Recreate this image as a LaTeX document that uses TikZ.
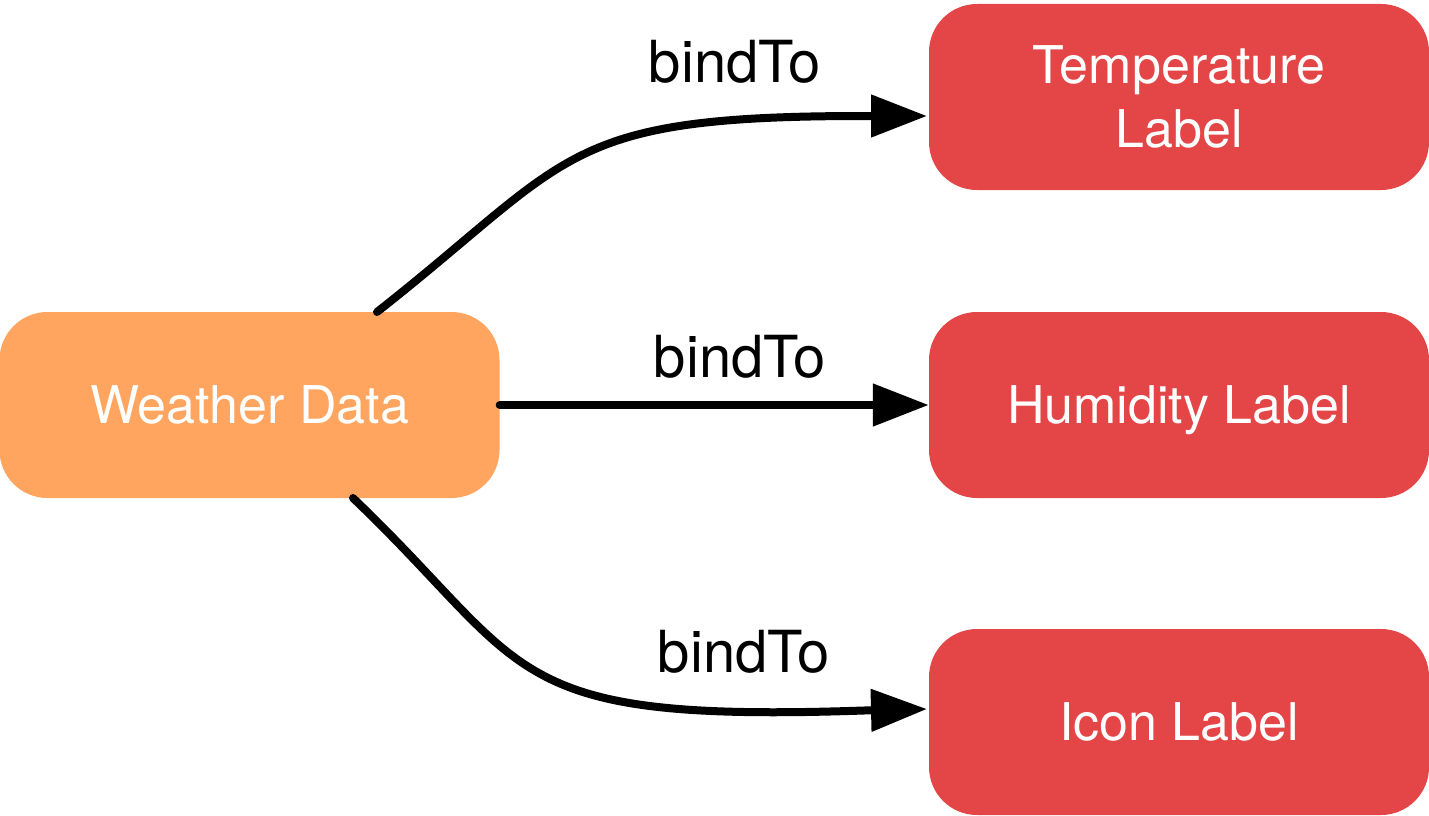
\documentclass[tikz,border=0pt]{standalone}
\usepackage{fontspec}
\setmainfont{TeX Gyre Heros}
\usetikzlibrary{arrows.meta}
\definecolor{wdorange}{RGB}{255,165,95}
\definecolor{lblred}{RGB}{228,70,72}
\tikzset{
  box/.style={rectangle, rounded corners=48pt, minimum width=500pt, minimum height=186pt,
    inner sep=0pt, text=white, align=center, text depth=0pt, font=\fontsize{52}{64}\selectfont},
  src/.style={box, fill=wdorange},
  dst/.style={box, fill=lblred},
  conn/.style={draw=black, line width=8pt, line cap=round, -{Triangle[length=56pt,width=41pt]}},
  lbl/.style={anchor=base, font=\fontsize{58}{60}\selectfont, text=black, inner sep=0pt}
}
\begin{document}
\begin{tikzpicture}[x=1pt,y=-1pt]
\useasboundingbox (0,0) rectangle (1429,816);
\node[src] (wd) at (249.5,405) {Weather Data};
\node[dst] (temp) at (1179,97) {Temperature\\Label};
\node[dst] (hum) at (1179,405) {Humidity Label};
\node[dst] (icon) at (1179,722) {Icon Label};
\coordinate (s1) at (377,312);
\coordinate (s3) at (353,498);
\coordinate (b1) at (864,116);
\coordinate (b3) at (864,710.5);
\coordinate (e1) at (927,116);
\coordinate (e3) at (927,709);
\draw[conn] (s1) .. controls (574,157) and (560,116) .. (b1) -- (e1);
\draw[conn] (wd.east) -- (hum.west);
\draw[conn] (s3) .. controls (533,670) and (500,723) .. (b3) -- (e3);
\node[lbl] (l1) at (735,82) {bindTo};
\node[lbl] (l2) at (740,377) {bindTo};
\node[lbl] (l3) at (744,672) {bindTo};
\end{tikzpicture}
\end{document}
